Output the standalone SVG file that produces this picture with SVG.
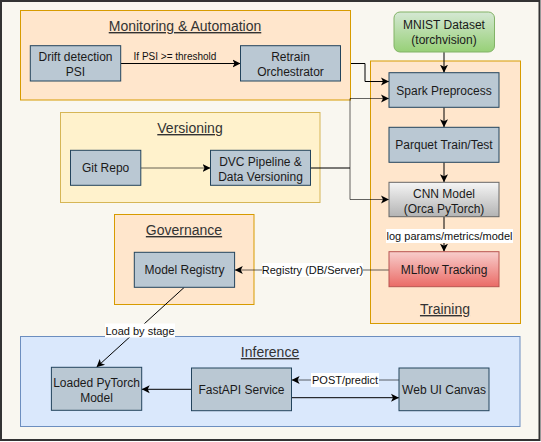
<svg xmlns="http://www.w3.org/2000/svg" width="541" height="442" viewBox="0 0 541 442">
<style>
text{font-family:"Liberation Sans",Arial,sans-serif;fill:#1a1a1a;text-anchor:middle}
.t{font-size:12px}
.g{font-size:14px;fill:#333;text-decoration:underline}
.l{font-size:11px;fill:#111}
.s{font-size:10px;fill:#111}
.n{fill:#bac8d3;stroke:#23445d;stroke-width:1}
.orange{fill:#ffe6cc;stroke:#d79b00;stroke-width:1}
.yellow{fill:#fff2cc;stroke:#d6b656;stroke-width:1}
.blue{fill:#dae8fc;stroke:#6c8ebf;stroke-width:1}
.e{fill:none;stroke:#000;stroke-width:1;marker-end:url(#a)}
.eg{fill:none;stroke:#000;stroke-opacity:0.6;stroke-width:1}
.ega{fill:none;stroke:#000;stroke-opacity:0.6;stroke-width:1;marker-end:url(#a)}
.lb{fill:#fff}
</style>
<defs>
<marker id="a" markerUnits="userSpaceOnUse" markerWidth="10" markerHeight="10" refX="8" refY="4" orient="auto" viewBox="0 0 10 8">
<path d="M0,0 L8,4 L0,8 L2,4 Z" fill="#000"/>
</marker>
<linearGradient id="green" x1="0" y1="0" x2="0" y2="1"><stop offset="0" stop-color="#d5e8d4"/><stop offset="1" stop-color="#97d077"/></linearGradient>
<linearGradient id="gray" x1="0" y1="0" x2="0" y2="1"><stop offset="0" stop-color="#f5f5f5"/><stop offset="1" stop-color="#b3b3b3"/></linearGradient>
<linearGradient id="red" x1="0" y1="0" x2="0" y2="1"><stop offset="0" stop-color="#f8cecc"/><stop offset="1" stop-color="#ea6b66"/></linearGradient>
</defs>
<rect x="1" y="1" width="538.5" height="439" fill="#f9f7f0" stroke="#333" stroke-width="2"/>

<g id="monitoring">
<rect class="orange" x="20.5" y="10.5" width="330" height="89.5"/>
<text class="g" x="185" y="31">Monitoring &amp; Automation</text>
</g>
<g id="versioning">
<rect class="yellow" x="60.5" y="112.5" width="259.5" height="90"/>
<text class="g" x="190" y="133">Versioning</text>
</g>
<g id="governance">
<rect class="orange" x="114.5" y="214.5" width="139.5" height="90"/>
<text class="g" x="184" y="235">Governance</text>
</g>
<g id="training">
<rect class="orange" x="370.5" y="61" width="150" height="262.5"/>
<text class="g" x="445" y="314">Training</text>
</g>
<g id="inference">
<rect class="blue" x="20.5" y="336.5" width="499.5" height="90"/>
<text class="g" x="270" y="357">Inference</text>
</g>

<g id="connectors">
<path class="e" d="M120.7,63.5 H240.5"/>
<text class="s" x="175" y="60">If PSI &gt;= threshold</text>
<path class="e" d="M351,63.5 H365 V81.5 H389"/>
<path class="ega" d="M141,168 H210.5"/>
<path class="ega" d="M310.6,168 H350 V98.5 H389"/>
<path class="ega" d="M310.6,168 H350 V199.5 H389"/>
<path class="e" d="M444,52 V72.7"/>
<path class="e" d="M444,107.3 V127.3"/>
<path class="e" d="M444,162.3 V182.3"/>
<path class="e" d="M444,216.7 V251.7"/>
<rect class="lb" x="386" y="229" width="127" height="14"/>
<text class="l" x="449.5" y="240">log params/metrics/model</text>
<path class="ega" d="M389,270 H234.8"/>
<rect class="lb" x="262" y="263" width="101" height="14"/>
<text class="l" x="312.5" y="274">Registry (DB/Server)</text>
<path class="e" d="M184.3,287.3 L96.5,367.3"/>
<rect class="lb" x="105" y="323.5" width="70" height="14"/>
<text class="l" x="140" y="334.5">Load by stage</text>
<path class="e" d="M191.5,389.3 H141.7"/>
<path class="ega" d="M399,380 H291.6"/>
<rect class="lb" x="311" y="373" width="68" height="14"/>
<text class="l" x="345" y="384">POST/predict</text>
<path class="e" d="M291.6,397.7 H399"/>
</g>

<g id="drift">
<rect class="n" x="30.3" y="45.7" width="90.4" height="35.3"/>
<text class="t" x="75.5" y="61">Drift detection</text>
<text class="t" x="75.5" y="75.6">PSI</text>
</g>
<g id="retrain">
<rect class="n" x="240.5" y="45.7" width="100" height="35.3"/>
<text class="t" x="290.5" y="61">Retrain</text>
<text class="t" x="290.5" y="75.6">Orchestrator</text>
</g>
<g id="mnist">
<rect x="394" y="12" width="100.5" height="40" rx="6" fill="url(#green)" stroke="#82b366"/>
<text class="t" x="444" y="29.3">MNIST Dataset</text>
<text class="t" x="444" y="44.3">(torchvision)</text>
</g>
<g id="spark">
<rect class="n" x="389" y="72.7" width="110" height="34.6"/>
<text class="t" x="444" y="94.5">Spark Preprocess</text>
</g>
<g id="parquet">
<rect class="n" x="389" y="127.3" width="110" height="35"/>
<text class="t" x="444" y="149">Parquet Train/Test</text>
</g>
<g id="cnn">
<rect x="389" y="182.3" width="110" height="34.4" fill="url(#gray)" stroke="#666"/>
<text class="t" x="444" y="198.3">CNN Model</text>
<text class="t" x="444" y="212.8">(Orca PyTorch)</text>
</g>
<g id="mlflow">
<rect x="389" y="251.7" width="110" height="35" fill="url(#red)" stroke="#b85450"/>
<text class="t" x="444" y="273.5">MLflow Tracking</text>
</g>
<g id="git">
<rect class="n" x="70.5" y="150.3" width="70.3" height="35"/>
<text class="t" x="105.6" y="172">Git Repo</text>
</g>
<g id="dvc">
<rect class="n" x="210.5" y="150.3" width="100" height="35"/>
<text class="t" x="260.5" y="166">DVC Pipeline &amp;</text>
<text class="t" x="260.5" y="181">Data Versioning</text>
</g>
<g id="registry">
<rect class="n" x="134.3" y="252.3" width="100.3" height="35"/>
<text class="t" x="184.5" y="274">Model Registry</text>
</g>
<g id="loaded">
<rect class="n" x="51.4" y="367.3" width="90.3" height="43"/>
<text class="t" x="96.5" y="387">Loaded PyTorch</text>
<text class="t" x="96.5" y="402">Model</text>
</g>
<g id="fastapi">
<rect class="n" x="191.5" y="368" width="100" height="42.7"/>
<text class="t" x="241.5" y="393.6">FastAPI Service</text>
</g>
<g id="webui">
<rect class="n" x="399" y="368" width="90" height="42.7"/>
<text class="t" x="444" y="393.6">Web UI Canvas</text>
</g>
</svg>
